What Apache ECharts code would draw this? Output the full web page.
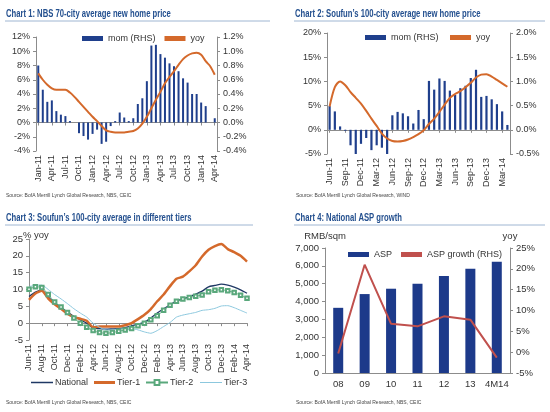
<!DOCTYPE html>
<html><head><meta charset="utf-8">
<script src="https://cdn.jsdelivr.net/npm/echarts@6/dist/echarts.min.js"></script>
<style>html,body{margin:0;padding:0;background:#fff}#c{width:550px;height:412px}</style>
</head><body><div id="c"></div>
<script>
// ---------- Chart 1 data ----------
const c1Months = ['Jan-11','Feb-11','Mar-11','Apr-11','May-11','Jun-11','Jul-11','Aug-11','Sep-11','Oct-11','Nov-11','Dec-11',
 'Jan-12','Feb-12','Mar-12','Apr-12','May-12','Jun-12','Jul-12','Aug-12','Sep-12','Oct-12','Nov-12','Dec-12',
 'Jan-13','Feb-13','Mar-13','Apr-13','May-13','Jun-13','Jul-13','Aug-13','Sep-13','Oct-13','Nov-13','Dec-13',
 'Jan-14','Feb-14','Mar-14','Apr-14'];
const c1Mom = [0.80,0.46,0.29,0.31,0.16,0.11,0.09,0.02,0.00,-0.15,-0.19,-0.24,-0.16,-0.10,-0.30,-0.27,-0.05,0.02,0.14,0.07,0.02,0.06,0.26,0.34,0.58,1.08,1.09,0.96,0.91,0.83,0.79,0.72,0.62,0.56,0.40,0.40,0.28,0.23,0.00,0.06];
const c1Yoy = [6.9,6.0,5.3,4.8,4.6,4.6,4.6,4.2,3.6,2.9,2.2,1.5,0.8,0.2,-0.5,-1.1,-1.3,-1.4,-1.4,-1.4,-1.3,-1.2,-0.85,-0.15,0.8,2.0,3.2,4.3,5.5,6.4,7.2,8.1,8.9,9.4,9.7,9.8,9.5,8.6,7.9,6.7];

// ---------- Chart 2 data ----------
const c2Months = ['Jun-11','Jul-11','Aug-11','Sep-11','Oct-11','Nov-11','Dec-11',
 'Jan-12','Feb-12','Mar-12','Apr-12','May-12','Jun-12','Jul-12','Aug-12','Sep-12','Oct-12','Nov-12','Dec-12',
 'Jan-13','Feb-13','Mar-13','Apr-13','May-13','Jun-13','Jul-13','Aug-13','Sep-13','Oct-13','Nov-13','Dec-13',
 'Jan-14','Feb-14','Mar-14','Apr-14'];
const c2Mom = [0.49,0.38,0.07,-0.02,-0.32,-0.51,-0.29,-0.17,-0.42,-0.32,-0.37,-0.50,0.30,0.37,0.34,0.28,0.13,0.41,0.22,1.01,0.83,1.06,1.01,0.81,0.72,0.86,0.91,1.07,1.24,0.68,0.70,0.63,0.53,0.38,0.10];
const c2Yoy = [4.8,8.8,10.0,9.2,7.8,6.6,5.4,3.9,2.3,0.8,-0.8,-1.8,-2.3,-2.4,-2.3,-2.0,-1.5,-0.9,-0.1,1.2,2.3,3.7,5.2,6.6,7.4,8.0,8.8,9.7,10.8,11.4,11.5,11.0,10.3,9.6,8.9];

// ---------- Chart 3 data ----------
const c3Months = c2Months.slice();
const c3National = [7.9,9.2,9.8,7.8,6.0,4.7,3.3,2.0,1.0,0.0,-1.5,-1.6,-1.8,-1.7,-1.6,-1.3,-0.8,-0.3,0.3,1.5,3.0,4.3,5.4,6.6,7.2,7.8,8.6,9.5,10.8,11.2,11.6,11.3,10.7,9.9,8.9];
const c3Tier1 = [6.9,8.8,9.6,7.3,5.6,4.3,2.8,1.8,1.3,0.7,-1.2,-1.0,-1.0,-1.0,-1.0,-0.6,0.0,1.2,2.5,4.2,6.5,8.5,11.0,13.2,13.8,15.4,17.2,19.8,21.8,22.9,23.5,22.0,21.1,20.0,18.3];
const c3Tier2 = [10.1,10.8,10.6,8.5,6.3,4.8,3.2,1.5,0.0,-1.2,-2.2,-2.8,-3.0,-2.8,-2.4,-2.0,-1.6,-0.8,0.0,1.0,2.2,3.8,5.3,6.5,7.2,7.6,8.0,8.4,9.3,9.8,9.9,9.6,9.1,8.3,7.4];
const c3Tier3 = [10.9,11.2,11.3,10.0,8.5,7.2,5.8,4.3,3.0,1.8,0.0,-1.2,-2.0,-2.0,-1.8,-1.6,-1.6,-2.0,-2.6,-3.0,-2.2,-1.0,0.2,1.8,2.4,2.8,3.2,3.8,4.0,4.4,5.1,5.2,4.6,3.8,3.0];

// ---------- Chart 4 data ----------
const c4Years = ['08','09','10','11','12','13','4M14'];
const c4Asp = [3650,4420,4720,5000,5430,5840,6230];
const c4Growth = [-0.3,21.0,6.8,6.2,8.6,7.8,-1.3];

// ---------- Texts ----------
const titles = ['Chart 1: NBS 70-city average new home price','Chart 2: Soufun\u2019s 100-city average new home price',
  'Chart 3: Soufun\u2019s 100-city average in different tiers','Chart 4: National ASP growth'];
const sources = ['Source: BofA Merrill Lynch Global Research, NBS, CEIC','Source: BofA Merrill Lynch Global Research, WIND',
  'Source: BofA Merrill Lynch Global Research, NBS, CEIC','Source: BofA Merrill Lynch Global Research, NBS, CEIC'];

const FONT = '"Liberation Sans", Arial, sans-serif';
const NAVY = '#1f3f8c', ORANGE = '#d4692b', TCOL = '#24508f', ULINE = '#9fb6d2', AX = '#8c8c8c', TXT = '#333';

const lbl = (extra) => Object.assign({fontSize: 9, color: TXT, fontFamily: FONT}, extra || {});
const yBase = (o) => Object.assign({
  type: 'value', splitLine: {show: false},
  axisLine: {show: true, lineStyle: {color: AX}},
  axisTick: {show: true, length: 3, lineStyle: {color: AX}},
}, o);
const zeroX = (gi, data, interval) => ({
  type: 'category', gridIndex: gi, data: data, boundaryGap: gi !== 2,
  axisLine: {show: true, onZero: true, lineStyle: {color: AX}},
  axisTick: {show: true, length: 3, interval: interval, alignWithLabel: true, lineStyle: {color: AX}},
  axisLabel: {show: false, interval: interval}
});
const labX = (gi, data, interval) => ({
  type: 'category', gridIndex: gi, data: data, boundaryGap: gi !== 2, position: 'bottom',
  axisLine: {show: false, onZero: false}, axisTick: {show: false},
  axisLabel: lbl({interval: interval, rotate: 90, margin: 4})
});

const pct0 = v => v + '%';
const pct1 = v => (Math.round(v * 10) / 10).toFixed(1) + '%';
const thous = v => v.toLocaleString('en-US');

const graphics = [
  {type: 'line', shape: {x1: 5, y1: 21, x2: 270, y2: 21}, style: {stroke: ULINE, lineWidth: 1}},
  {type: 'line', shape: {x1: 294, y1: 21, x2: 545, y2: 21}, style: {stroke: ULINE, lineWidth: 1}},
  {type: 'line', shape: {x1: 5, y1: 225, x2: 253, y2: 225}, style: {stroke: ULINE, lineWidth: 1}},
  {type: 'line', shape: {x1: 294, y1: 225, x2: 545, y2: 225}, style: {stroke: ULINE, lineWidth: 1}},
];
[[6, 9], [295, 9], [6, 213], [295, 213]].forEach((p, i) => graphics.push({
  type: 'text', x: p[0], y: p[1], scaleX: 0.73,
  style: {text: titles[i], fontSize: 10.5, fontWeight: 'bold', fill: TCOL, fontFamily: FONT}
}));
[[6, 193], [296, 193], [6, 400], [296, 400]].forEach((p, i) => graphics.push({
  type: 'text', left: p[0], top: p[1], style: {text: sources[i], fontSize: 5, fill: '#444', fontFamily: FONT}
}));
graphics.push({type: 'text', left: 23, top: 230, style: {text: '% yoy', fontSize: 9.5, fill: TXT, fontFamily: FONT}});

const legTxt = {fontSize: 9, color: TXT, fontFamily: FONT};
const legTxt3 = {fontSize: 9, color: TXT, fontFamily: FONT, padding: [0, 0, 0, -3]};

const option = {
  animation: false,
  textStyle: {fontFamily: FONT},
  graphic: graphics,
  legend: [
    {data: ['mom (RHS)', 'yoy'], left: 77, top: 29, icon: 'rect', itemWidth: 21, itemHeight: 5, itemGap: 9, textStyle: legTxt},
    {data: ['mom (RHS) ', 'yoy '], left: 360, top: 28, icon: 'rect', itemWidth: 21, itemHeight: 5, itemGap: 9, textStyle: legTxt},
    {data: ['National'], left: 26, top: 373, icon: 'rect', itemWidth: 22, itemHeight: 1.5, textStyle: legTxt3},
    {data: ['Tier-1'], left: 89, top: 373, icon: 'rect', itemWidth: 21, itemHeight: 3, textStyle: legTxt3},
    {data: ['Tier-2'], left: 140, top: 373, itemWidth: 22, itemHeight: 6, textStyle: legTxt3},
    {data: ['Tier-3'], left: 195, top: 373, icon: 'rect', itemWidth: 22, itemHeight: 1, textStyle: legTxt3},
    {data: ['ASP', 'ASP growth (RHS)'], left: 343, top: 245, icon: 'rect', itemWidth: 21, itemHeight: 5, itemGap: 9, textStyle: legTxt}
  ],
  grid: [
    {left: 36, right: 333, top: 37, bottom: 261},
    {left: 327, right: 40, top: 33, bottom: 258},
    {left: 29, right: 303, top: 239, bottom: 72},
    {left: 325, right: 40, top: 248, bottom: 39}
  ],
  xAxis: [
    zeroX(0, c1Months, 2), labX(0, c1Months, 2),
    zeroX(1, c2Months, 2), labX(1, c2Months, 2),
    zeroX(2, c3Months, 1), labX(2, c3Months, 1),
    {type: 'category', gridIndex: 3, data: c4Years,
     axisLine: {show: true, lineStyle: {color: AX}}, axisTick: {show: false},
     axisLabel: lbl({fontSize: 9.5, margin: 6, interval: 0})}
  ],
  yAxis: [
    yBase({gridIndex: 0, min: -4, max: 12, interval: 2, axisLabel: lbl({formatter: pct0, margin: 6})}),
    yBase({gridIndex: 0, min: -0.4, max: 1.2, interval: 0.2, position: 'right', axisLabel: lbl({formatter: pct1, margin: 6})}),
    yBase({gridIndex: 1, min: -5, max: 20, interval: 5, axisLabel: lbl({formatter: pct0, margin: 6})}),
    yBase({gridIndex: 1, min: -0.5, max: 2.0, interval: 0.5, position: 'right', axisLabel: lbl({formatter: pct1, margin: 6})}),
    yBase({gridIndex: 2, min: -5, max: 25, interval: 5, axisLabel: lbl({fontSize: 9.5, margin: 6})}),
    yBase({gridIndex: 3, min: 0, max: 7000, interval: 1000, name: 'RMB/sqm', nameLocation: 'end', nameGap: 7,
      nameTextStyle: {fontSize: 9.5, color: TXT, fontFamily: FONT, align: 'center'},
      axisLabel: lbl({fontSize: 9.5, formatter: thous, margin: 6})}),
    yBase({gridIndex: 3, min: -5, max: 25, interval: 5, position: 'right', name: 'yoy', nameLocation: 'end', nameGap: 7,
      nameTextStyle: {fontSize: 9.5, color: TXT, fontFamily: FONT, align: 'center'},
      axisLabel: lbl({fontSize: 9.5, formatter: pct0, margin: 6})})
  ],
  series: [
    {name: 'mom (RHS)', type: 'bar', xAxisIndex: 0, yAxisIndex: 1, data: c1Mom, barWidth: 2, itemStyle: {color: NAVY}},
    {name: 'yoy', type: 'line', xAxisIndex: 0, yAxisIndex: 0, data: c1Yoy, symbol: 'none', smooth: 0.3,
     lineStyle: {color: ORANGE, width: 2}, itemStyle: {color: ORANGE}},
    {name: 'mom (RHS) ', type: 'bar', xAxisIndex: 2, yAxisIndex: 3, data: c2Mom, barWidth: 2.2, itemStyle: {color: NAVY}},
    {name: 'yoy ', type: 'line', xAxisIndex: 2, yAxisIndex: 2, data: c2Yoy, symbol: 'none', smooth: 0.3,
     lineStyle: {color: ORANGE, width: 2}, itemStyle: {color: ORANGE}},
    {name: 'National', type: 'line', xAxisIndex: 4, yAxisIndex: 4, data: c3National, symbol: 'none', smooth: 0.2,
     lineStyle: {color: '#1f3864', width: 1.3}, itemStyle: {color: '#1f3864'}},
    {name: 'Tier-1', type: 'line', xAxisIndex: 4, yAxisIndex: 4, data: c3Tier1, symbol: 'none', smooth: 0.2,
     lineStyle: {color: ORANGE, width: 2.5}, itemStyle: {color: ORANGE}},
    {name: 'Tier-2', type: 'line', xAxisIndex: 4, yAxisIndex: 4, data: c3Tier2, symbol: 'emptyRect', symbolSize: 3.5, smooth: 0.2,
     lineStyle: {color: '#5aa87c', width: 0.9}, itemStyle: {color: '#5aa87c', borderWidth: 0.8}},
    {name: 'Tier-3', type: 'line', xAxisIndex: 4, yAxisIndex: 4, data: c3Tier3, symbol: 'none', smooth: 0.2,
     lineStyle: {color: '#8cc8de', width: 1}, itemStyle: {color: '#8cc8de'}},
    {name: 'ASP', type: 'bar', xAxisIndex: 6, yAxisIndex: 5, data: c4Asp, barWidth: 10, itemStyle: {color: '#1d3a8a'}},
    {name: 'ASP growth (RHS)', type: 'line', xAxisIndex: 6, yAxisIndex: 6, data: c4Growth, symbol: 'none',
     lineStyle: {color: '#c0504d', width: 2}, itemStyle: {color: '#c0504d'}}
  ]
};
const chart = echarts.init(document.getElementById('c'), null, {renderer: 'canvas'});
chart.setOption(option);
</script></body></html>
